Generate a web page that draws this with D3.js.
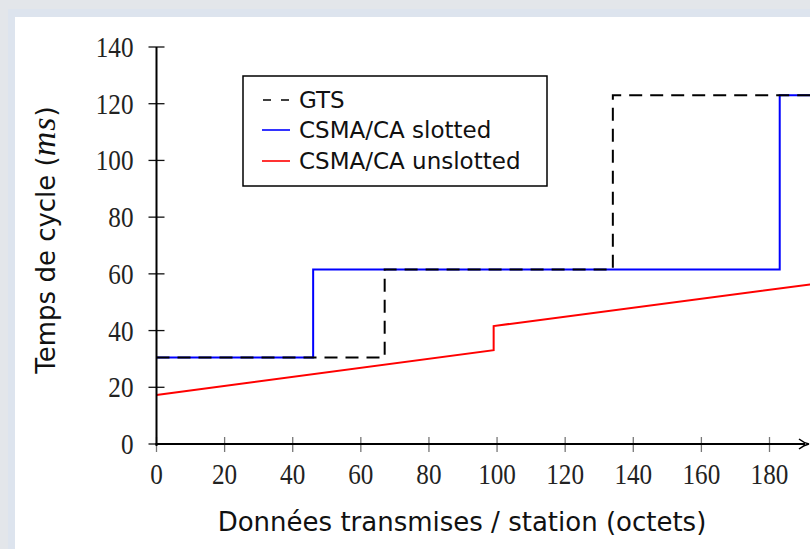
<!DOCTYPE html>
<html><head><meta charset="utf-8">
<script src="https://cdn.jsdelivr.net/npm/d3@7"></script>
<style>
html,body{margin:0;padding:0;background:#e3e6ea;}
svg{display:block;}
</style></head>
<body>
<svg id="c" width="810" height="549"></svg>
<script>
// Data
const gtsX = [0, 67, 67, 134, 134, 192];
const gtsY = [30.5, 30.5, 61.5, 61.5, 123, 123];
const slottedX = [0, 46, 46, 183, 183, 192];
const slottedY = [30.5, 30.5, 61.5, 61.5, 123, 123];
const unslottedX = [0, 99, 99, 192];
const unslottedY = [17.3, 33.1, 41.6, 56.3];
const xTicks = [0, 20, 40, 60, 80, 100, 120, 140, 160, 180];
const yTicks = [0, 20, 40, 60, 80, 100, 120, 140];
const seriesNames = ["GTS", "CSMA/CA slotted", "CSMA/CA unslotted"];

const svg = d3.select("#c");
// frame
svg.append("rect").attr("x",0).attr("y",0).attr("width",810).attr("height",549).attr("fill","#e3e6ea");
svg.append("rect").attr("x",8).attr("y",9).attr("width",802).attr("height",540).attr("fill","#dde4ee");
svg.append("rect").attr("x",15).attr("y",17).attr("width",795).attr("height",532).attr("fill","#ffffff");

const x = d3.scaleLinear().domain([0,180]).range([156.5,769.5]);
const y = d3.scaleLinear().domain([0,140]).range([444,47]);

const serif = "'Liberation Serif','DejaVu Serif',serif";
const sans = "'DejaVu Sans','Open Sans',sans-serif";

// series
const line = d3.line().x(d=>x(d[0])).y(d=>y(d[1]));
const g = svg.append("g");
function pts(xs, ys){ return xs.map((v,i)=>[v, ys[i]]); }
g.append("path").attr("d", line(pts(unslottedX, unslottedY))).attr("fill","none").attr("stroke","#ff0000").attr("stroke-width",2);
g.append("path").attr("d", line(pts(slottedX, slottedY))).attr("fill","none").attr("stroke","#0000ff").attr("stroke-width",2);
g.append("path").attr("d", line(pts(gtsX, gtsY))).attr("fill","none").attr("stroke","#000").attr("stroke-width",2).attr("stroke-dasharray","13,8");

// axes
const ax = svg.append("g");
function sx(px){ return `translate(${px},0) scale(0.84,1) translate(${-px},0)`; }
xTicks.forEach(t=>{
  ax.append("line").attr("x1",x(t)).attr("x2",x(t)).attr("y1",y(0)-7).attr("y2",y(0)+8).attr("stroke","#777").attr("stroke-width",1.3);
  ax.append("text").attr("x",x(t)).attr("y",y(0)+40).attr("text-anchor","middle")
    .attr("font-family",serif).attr("font-size",30).attr("fill","#222").attr("transform",sx(x(t))).text(t);
});
yTicks.forEach(t=>{
  ax.append("line").attr("x1",x(0)-8).attr("x2",x(0)+8).attr("y1",y(t)).attr("y2",y(t)).attr("stroke","#111").attr("stroke-width",1.3);
  ax.append("text").attr("x",x(0)-23).attr("y",y(t)+10).attr("text-anchor","end")
    .attr("font-family",serif).attr("font-size",30).attr("fill","#222").attr("transform",sx(x(0)-23)).text(t);
});
ax.append("line").attr("x1",x(0)).attr("x2",x(0)).attr("y1",y(0)+2).attr("y2",y(140)).attr("stroke","#000").attr("stroke-width",2);
ax.append("line").attr("x1",x(0)-1).attr("x2",805).attr("y1",y(0)).attr("y2",y(0)).attr("stroke","#000").attr("stroke-width",2);
ax.append("path").attr("d",`M799,${y(0)-5} Q804,${y(0)-1} 809,${y(0)} Q804,${y(0)+1} 799,${y(0)+5}`).attr("fill","none").attr("stroke","#000").attr("stroke-width",1.5);

// axis labels
svg.append("text").attr("x",462).attr("y",531).attr("text-anchor","middle").attr("font-family",sans).attr("font-size",26).attr("fill","#111")
  .text("Données transmises / station (octets)");
const yl = svg.append("text").attr("transform","translate(55,240) rotate(-90)").attr("text-anchor","middle").attr("font-family",sans).attr("font-size",26).attr("fill","#111");
yl.append("tspan").text("Temps de cycle (");
yl.append("tspan").attr("font-family",serif).attr("font-style","italic").attr("font-size",34).attr("letter-spacing",1).text("ms");
yl.append("tspan").text(")");

// legend
const lg = svg.append("g");
lg.append("rect").attr("x",243).attr("y",76).attr("width",304).attr("height",110).attr("fill","#fff").attr("stroke","#000").attr("stroke-width",1.5);
const ly = [100, 130, 161];
const colors = ["#000","#0000ff","#ff0000"];
seriesNames.forEach((n,i)=>{
  const l = lg.append("line").attr("x1",262).attr("x2",290).attr("y1",ly[i]).attr("y2",ly[i]).attr("stroke",colors[i]).attr("stroke-width",1.6);
  if(i===0) l.attr("stroke-dasharray","8,10").attr("x1",263);
  lg.append("text").attr("x",299).attr("y",ly[i]+8).attr("font-family",sans).attr("font-size",23).attr("fill","#111").text(n);
});
</script>
</body></html>
